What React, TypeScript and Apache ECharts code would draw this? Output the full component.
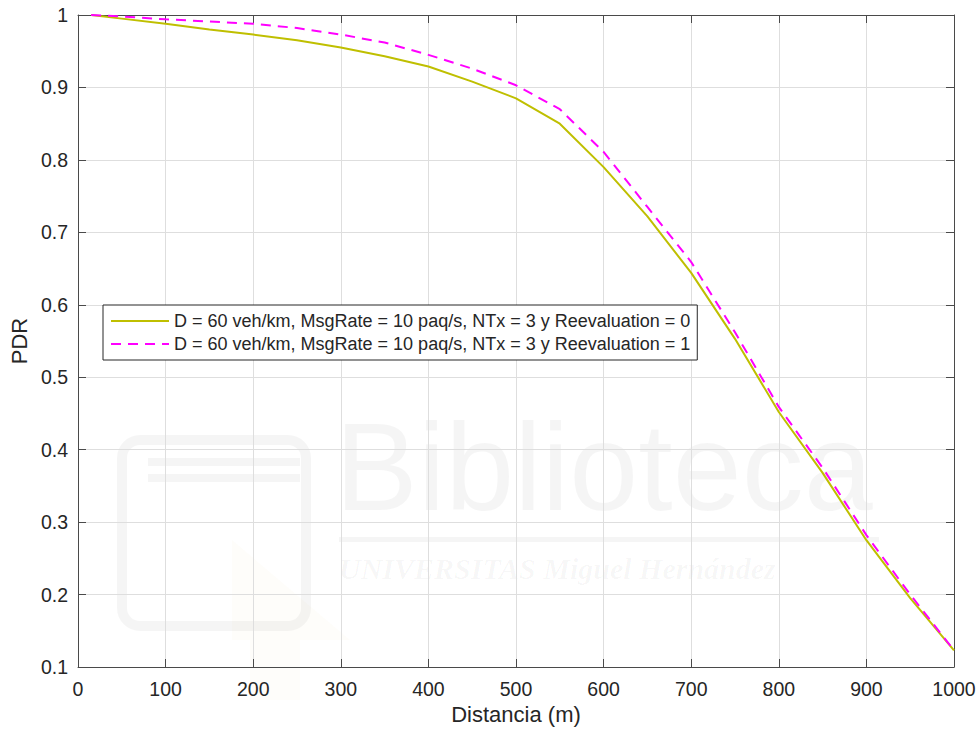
import React, { useEffect, useRef } from "react";
import * as echarts from "echarts";

const distance = [15, 50, 100, 150, 200, 250, 300, 350, 400, 450, 500, 550, 600, 650, 700, 750, 800, 850, 900, 950, 1000];
const pdrReeval0 = [1.0, 0.995, 0.988, 0.98, 0.973, 0.965, 0.955, 0.943, 0.929, 0.908, 0.885, 0.85, 0.79, 0.722, 0.644, 0.553, 0.452, 0.368, 0.275, 0.195, 0.123];
const pdrReeval1 = [1.0, 0.998, 0.994, 0.991, 0.988, 0.982, 0.973, 0.962, 0.945, 0.926, 0.903, 0.87, 0.811, 0.735, 0.659, 0.562, 0.459, 0.375, 0.282, 0.2, 0.123];
const seriesNames = [
  "D = 60 veh/km, MsgRate = 10 paq/s, NTx = 3 y Reevaluation = 0",
  "D = 60 veh/km, MsgRate = 10 paq/s, NTx = 3 y Reevaluation = 1",
];
const xTitle = "Distancia (m)";
const yTitle = "PDR";

const FONT = "'Liberation Sans', Arial, Helvetica, sans-serif";
const TXT = "#262626";
const AX = "#4a4a4a";

export default function App() {
  const ref = useRef<HTMLDivElement>(null);
  useEffect(() => {
    if (!ref.current) return;
    const chart = echarts.init(ref.current, undefined, { renderer: "svg" });
    const wm = "rgba(0,0,0,0.04)";
    const axisCommon = {
      axisLine: { show: true, onZero: false, lineStyle: { color: AX, width: 1 } },
      axisTick: { show: true, inside: true, length: 8, lineStyle: { color: AX } },
    };
    chart.setOption({
      animation: false,
      backgroundColor: "#ffffff",
      textStyle: { fontFamily: FONT },
      grid: { left: 77, right: 25, top: 15, bottom: 64, containLabel: false },
      graphic: [
        {
          type: "group",
          silent: true,
          z: -1,
          children: [
            { type: "rect", shape: { x: 122, y: 440, width: 184, height: 186, r: 18 }, style: { fill: "none", stroke: wm, lineWidth: 10 } },
            { type: "rect", shape: { x: 148, y: 458, width: 152, height: 8 }, style: { fill: wm } },
            { type: "rect", shape: { x: 148, y: 474, width: 152, height: 8 }, style: { fill: wm } },
            { type: "polygon", shape: { points: [[232, 540], [350, 640], [300, 640], [300, 700], [250, 700], [250, 640], [232, 640]] }, style: { fill: "rgba(230,210,120,0.035)" } },
            { type: "text", x: 335, y: 405, style: { text: "Biblioteca", fontSize: 124, fontFamily: FONT, fill: wm } },
            { type: "rect", shape: { x: 339, y: 537, width: 540, height: 5 }, style: { fill: wm } },
            { type: "text", x: 339, y: 553, style: { text: "UNIVERSITAS Miguel Hernández", fontSize: 30, fontStyle: "italic", fontWeight: "bold", fontFamily: "'Liberation Serif', serif", fill: "rgba(0,0,0,0.035)" } },
          ],
        },
      ],
      legend: {
        show: true,
        left: 103,
        top: 305,
        orient: "vertical",
        backgroundColor: "#ffffff",
        borderColor: TXT,
        borderWidth: 1,
        borderRadius: 0,
        padding: [6, 7, 6, 7],
        itemWidth: 58,
        itemHeight: 14,
        itemGap: 3,
        itemStyle: { opacity: 0 },
        textStyle: { fontSize: 18, color: TXT, fontFamily: FONT, lineHeight: 20 },
        data: seriesNames,
      },
      xAxis: [
        {
          type: "value",
          min: 0,
          max: 1000,
          interval: 100,
          position: "bottom",
          name: xTitle,
          nameLocation: "middle",
          nameGap: 36,
          nameTextStyle: { fontSize: 22, color: TXT, fontFamily: FONT },
          axisLabel: { fontSize: 19.5, color: TXT, margin: 12, fontFamily: FONT, formatter: (v: number) => String(v) },
          splitLine: { show: true, lineStyle: { color: "#dedede", width: 1 } },
          ...axisCommon,
        },
        {
          type: "value",
          min: 0,
          max: 1000,
          interval: 100,
          position: "top",
          axisLabel: { show: false },
          splitLine: { show: false },
          ...axisCommon,
        },
      ],
      yAxis: [
        {
          type: "value",
          min: 0.1,
          max: 1,
          interval: 0.1,
          position: "left",
          name: yTitle,
          nameLocation: "middle",
          nameRotate: 90,
          nameGap: 46,
          nameTextStyle: { fontSize: 22, color: TXT, fontFamily: FONT },
          axisLabel: {
            fontSize: 19.5,
            color: TXT,
            margin: 10,
            fontFamily: FONT,
            formatter: (v: number) => (Math.abs(v - 1) < 1e-9 ? "1" : v.toFixed(1)),
          },
          splitLine: { show: true, lineStyle: { color: "#dedede", width: 1 } },
          ...axisCommon,
        },
        {
          type: "value",
          min: 0.1,
          max: 1,
          interval: 0.1,
          position: "right",
          axisLabel: { show: false },
          splitLine: { show: false },
          ...axisCommon,
        },
      ],
      series: [
        {
          name: seriesNames[0],
          type: "line",
          xAxisIndex: 0,
          yAxisIndex: 0,
          data: distance.map((d, i) => [d, pdrReeval0[i]]),
          showSymbol: false,
          symbol: "none",
          lineStyle: { color: "#BFBF00", width: 2 },
          itemStyle: { color: "#BFBF00" },
          z: 3,
        },
        {
          name: seriesNames[1],
          type: "line",
          xAxisIndex: 0,
          yAxisIndex: 0,
          data: distance.map((d, i) => [d, pdrReeval1[i]]),
          showSymbol: false,
          symbol: "none",
          lineStyle: { color: "#FF00FF", width: 2, type: [10, 7] },
          itemStyle: { color: "#FF00FF" },
          z: 4,
        },
      ],
    });
    return () => chart.dispose();
  }, []);
  return (
    <div
      ref={ref}
      style={{ position: "absolute", left: 0, top: 0, width: 979, height: 731, background: "#fff" }}
    />
  );
}
